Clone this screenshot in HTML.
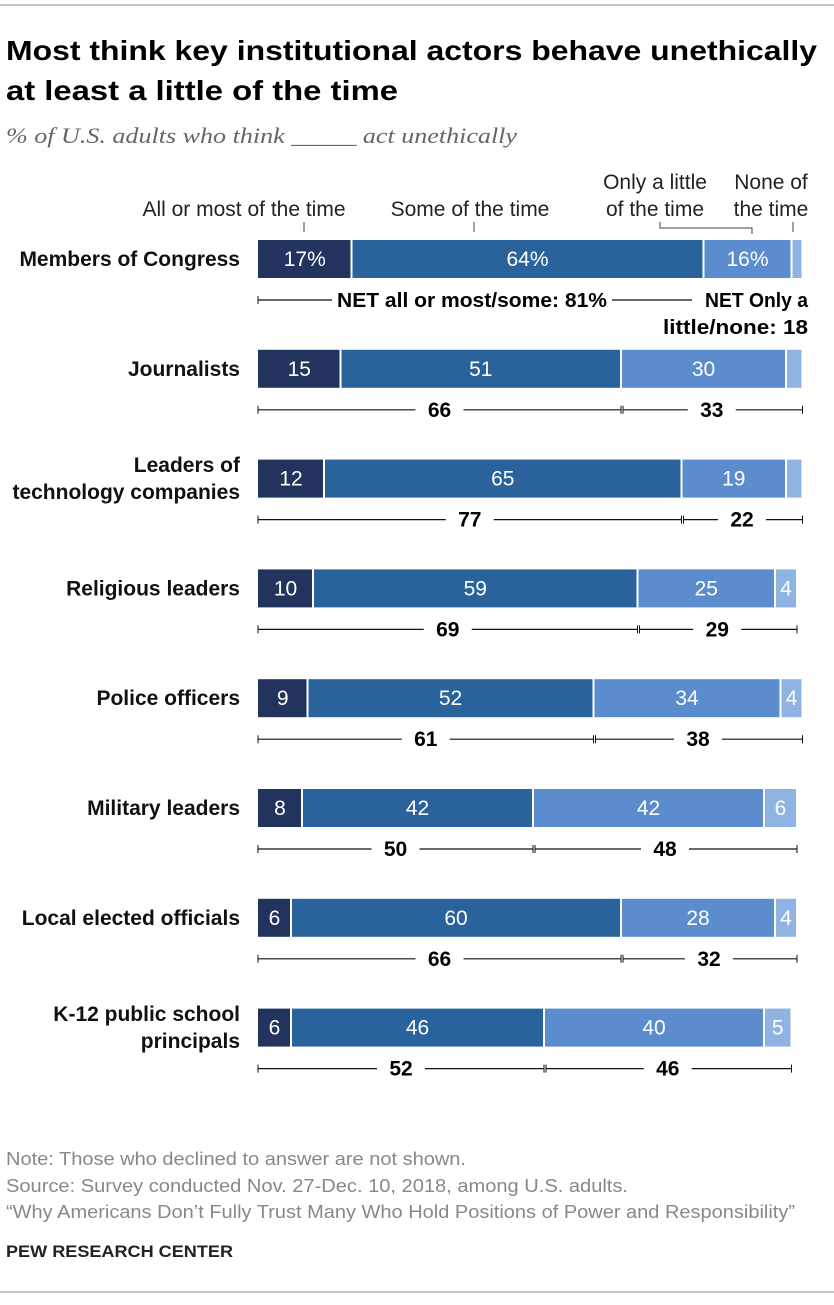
<!DOCTYPE html>
<html><head><meta charset="utf-8"><style>
body{margin:0;background:#fff;width:834px;height:1300px;overflow:hidden;font-family:"Liberation Sans",sans-serif}
</style></head><body>
<svg id="c" width="834" height="1300" xmlns="http://www.w3.org/2000/svg">
<line x1="0" y1="5" x2="834" y2="5" stroke="#888"/>
<text x="6" y="60" font-size="28" font-weight="bold" fill="#000" textLength="811" lengthAdjust="spacingAndGlyphs">Most think key institutional actors behave unethically</text>
<text x="6" y="100" font-size="28" font-weight="bold" fill="#000" textLength="392" lengthAdjust="spacingAndGlyphs">at least a little of the time</text>
<text x="6" y="143" font-size="22" font-style="italic" font-family="Liberation Serif,serif" fill="#666" textLength="511" lengthAdjust="spacingAndGlyphs">% of U.S. adults who think _____ act unethically</text>
<g font-size="21" fill="#222" text-anchor="middle">
<text x="244" y="216">All or most of the time</text>
<line x1="304" y1="222" x2="304" y2="232" stroke="#444"/>
<text x="470" y="216">Some of the time</text>
<line x1="474" y1="222" x2="474" y2="232" stroke="#444"/>
<text x="655" y="189">Only a little</text>
<text x="655" y="216">of the time</text>
<path d="M660 222V228H752V234" fill="none" stroke="#444"/>
<text x="771" y="189">None of</text>
<text x="771" y="216">the time</text>
<line x1="793" y1="222" x2="793" y2="232" stroke="#444"/>
</g>
<g id="rows"></g>
<g font-size="18" fill="#888">
<text x="6" y="1165" textLength="460" lengthAdjust="spacingAndGlyphs">Note: Those who declined to answer are not shown.</text>
<text x="6" y="1192" textLength="622" lengthAdjust="spacingAndGlyphs">Source: Survey conducted Nov. 27-Dec. 10, 2018, among U.S. adults.</text>
<text x="6" y="1218" textLength="789" lengthAdjust="spacingAndGlyphs">“Why Americans Don’t Fully Trust Many Who Hold Positions of Power and Responsibility”</text>
</g>
<text x="6" y="1257" font-size="17" font-weight="bold" fill="#222" textLength="227" lengthAdjust="spacingAndGlyphs">PEW RESEARCH CENTER</text>
<line x1="0" y1="1292" x2="834" y2="1292" stroke="#888"/>
</svg>
<script>
const categories=[["Members of Congress"],["Journalists"],["Leaders of","technology companies"],["Religious leaders"],["Police officers"],["Military leaders"],["Local elected officials"],["K-12 public school","principals"]];
const allMost=[17,15,12,10,9,8,6,6];
const some=[64,51,65,59,52,42,60,46];
const little=[16,30,19,25,34,42,28,40];
const none=[2,3,3,4,4,6,4,5];
const netA=[81,66,77,69,61,50,66,52];
const netB=[18,33,22,29,38,48,32,46];
const colors=["#22345e","#2a639b","#5b8ccd","#8fb3e2"];
const NS="http://www.w3.org/2000/svg";
const x0=258,k=5.5;
const X=v=>x0+v*k;
const rowY=i=>240+i*109.8;
const g=document.getElementById('rows');
function mk(t,a,p){const e=document.createElementNS(NS,t);for(const q in a)e.setAttribute(q,a[q]);(p||g).appendChild(e);return e;}
categories.forEach((lab,i)=>{
 const y=rowY(i),h=38,cy=y+h/2;
 const row=mk('g',{});
 
 
 lab.forEach((l,j)=>{const t=mk('text',{x:240,y:cy+7+(j-(lab.length-1)/2)*27,'text-anchor':'end','font-size':21,'font-weight':'bold',fill:'#111'},row);t.textContent=l;
  
  });
 const vals=[allMost[i],some[i],little[i],none[i]];
 let c=0;
 vals.forEach((v,s)=>{
  const r=mk('rect',{x:X(c)+(s?1:0),y:y,width:Math.max(v*k-(s?2:1),0),height:h,fill:colors[s]},row);
  
  
  if(v>=4){const t=mk('text',{x:X(c+v/2),y:cy+7,'text-anchor':'middle','font-size':21,fill:'#fff'},row);
   t.textContent=v+(i===0&&s<3?'%':'');
   
   }
  c+=v;});
 const ly=y+h+22;
 const a1=X(0),a2=X(allMost[i]+some[i]),a3=X(allMost[i]+some[i]+little[i]+none[i]);
 [[a1,a2],[a2+2,a3]].forEach((p,s)=>{
  const l=mk('line',{x1:p[0],y1:ly,x2:p[1],y2:ly,stroke:'#111','stroke-width':1.2},row);
  
  
  [p[0],p[1]].forEach(xx=>mk('line',{x1:xx,y1:ly-4,x2:xx,y2:ly+4,stroke:'#111'},row));});
 if(i===0){
  mk('rect',{x:332,y:ly-12,width:280,height:24,fill:'#fff'},row);
  const t=mk('text',{x:472,y:ly+7,'text-anchor':'middle','font-size':20,'font-weight':'bold',textLength:270,lengthAdjust:'spacingAndGlyphs'},row);t.textContent='NET all or most/some: '+netA[i]+'%';
  
  mk('rect',{x:692,y:ly-12,width:140,height:24,fill:'#fff'},row);
  const t2=mk('text',{x:808,y:ly+7,'text-anchor':'end','font-size':20,'font-weight':'bold',textLength:103,lengthAdjust:'spacingAndGlyphs'},row);t2.textContent='NET Only a';
  
  const t3=mk('text',{x:808,y:ly+34,'text-anchor':'end','font-size':20,'font-weight':'bold',textLength:145,lengthAdjust:'spacingAndGlyphs'},row);t3.textContent='little/none: '+netB[i];
  
 } else {
  [[(a1+a2)/2,netA[i]],[(a2+a3)/2,netB[i]]].forEach(p=>{
   mk('rect',{x:p[0]-24,y:ly-12,width:48,height:24,fill:'#fff'},row);
   const t=mk('text',{x:p[0],y:ly+7,'text-anchor':'middle','font-size':21,'font-weight':'bold'},row);t.textContent=p[1];
   
   });
 }
});
</script>
</body></html>
